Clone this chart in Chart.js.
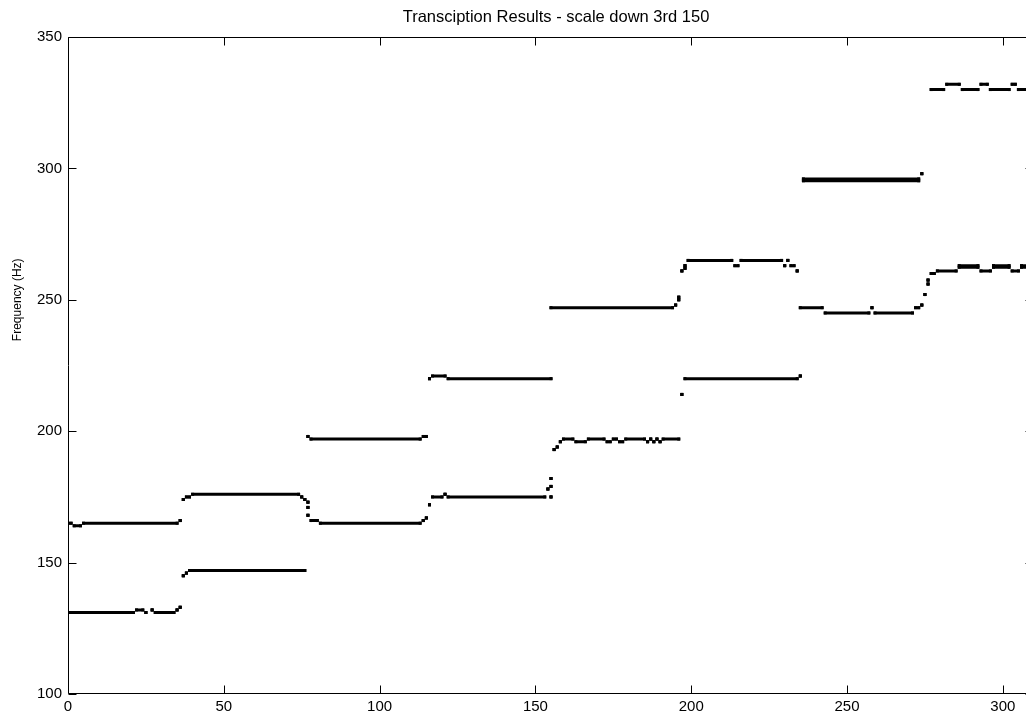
<!DOCTYPE html>
<html><head><meta charset="utf-8">
<script src="https://cdn.jsdelivr.net/npm/chart.js@4"></script>
<style>html,body{margin:0;padding:0;overflow:hidden;background:#fff}#wrap{width:1112px;height:717px;position:relative}</style>
</head><body><div id="wrap"><canvas id="c" width="1112" height="717"></canvas></div>
<script>
const chartTitle = 'Transciption Results - scale down 3rd 150';
const yAxisLabel = 'Frequency (Hz)';
const xTicks = [0, 50, 100, 150, 200, 250, 300];
const yTicks = [100, 150, 200, 250, 300, 350];
const xRange = [0, 310];
const yRange = [100, 350];

// Each run: [first frame, last frame, frequency (Hz)]
const bassRuns = [
  [0,21,131],[22,24,132],[25,25,131],[27,27,132],[28,34,131],[35,35,132],[36,36,133],
  [37,37,145],[38,38,146],[39,76,147]
];
const tenorRuns = [
  [0,1,165],[2,4,164],[5,35,165],[36,36,166],[37,37,174],[38,39,175],[40,74,176],
  [75,75,175],[76,76,174],[77,77,173],[77,77,171],[77,77,168],[78,80,166],[81,113,165],
  [114,114,166],[115,115,167],[116,116,172],[117,120,175],[121,121,176],[122,153,175],
  [154,154,178],[155,155,179],[155,155,182],[155,155,175]
];
const tenor2Runs = [
  [156,156,193],[157,157,194],[158,158,196],[159,162,197],[163,166,196],[167,172,197],
  [173,174,196],[175,176,197],[177,178,196],[179,185,197],[186,186,196],[187,187,197],
  [188,188,196],[189,189,197],[190,190,196],[191,196,197],
  [197,197,214],[198,234,220],[235,235,221]
];
const altoRuns = [
  [77,77,198],[78,113,197],[114,115,198],[116,116,220],[117,121,221],[122,155,220]
];
const sopranoRuns = [
  [155,194,247],[195,195,248],[196,196,250],[196,196,251],[197,197,261],[198,198,262],[198,198,263],
  [199,213,265],[214,215,263],[216,229,265],[230,230,263],[231,231,265],[232,233,263],[234,234,261]
];
const lateLowRuns = [
  [235,242,247],[243,257,245],[258,258,247],[259,271,245],[272,273,247],[274,274,248],
  [275,275,252],[276,276,256],[276,276,257.5],[277,278,260],[279,285,261],
  [286,292,263],[286,292,262.4],[293,296,261],[297,302,263],[297,302,262.4],
  [303,305,261],[306,310,263],[306,310,262.4]
];
const lateMidRuns = [
  [236,273,296],[236,273,295.3],[274,274,298]
];
const lateHighRuns = [
  [277,281,330],[282,286,332],[287,292,330],[293,295,332],[296,302,330],[303,304,332],[305,310,330]
];

function toPoints(runs) {
  const pts = [];
  runs.forEach(r => {
    pts.push({x: r[0], y: r[2]});
    pts.push({x: r[1], y: r[2]});
    pts.push({x: r[1], y: null});
  });
  return pts;
}
const allRuns = [bassRuns, tenorRuns, tenor2Runs, altoRuns, sopranoRuns, lateLowRuns, lateMidRuns, lateHighRuns];
const datasets = allRuns.map(runs => ({
  data: toPoints(runs),
  borderColor: '#000',
  backgroundColor: '#000',
  borderWidth: 3,
  borderCapStyle: 'square',
  pointStyle: 'rect',
  pointRadius: 2.12,
  pointBorderWidth: 0,
  pointBackgroundColor: '#000',
  pointHoverRadius: 0,
  tension: 0,
  spanGaps: false
}));

const FONT = "'Liberation Sans', Arial, sans-serif";

const boxPlugin = {
  id: 'box',
  afterDraw(chart) {
    const {ctx, chartArea: a, scales: {x, y}} = chart;
    ctx.save();
    ctx.strokeStyle = '#000';
    ctx.lineWidth = 1;
    ctx.beginPath();
    const L = Math.round(a.left) + 0.5, R = Math.round(a.right) - 0.5;
    const T = Math.round(a.top) + 0.5, B = Math.round(a.bottom) - 0.5;
    ctx.rect(L, T, R - L, B - T);
    x.ticks.forEach(t => {
      const px = Math.round(x.getPixelForValue(t.value)) + 0.5;
      ctx.moveTo(px, B); ctx.lineTo(px, B - 8);
      ctx.moveTo(px, T); ctx.lineTo(px, T + 8);
    });
    y.ticks.forEach(t => {
      const py = Math.round(y.getPixelForValue(t.value)) + 0.5;
      ctx.moveTo(L, py); ctx.lineTo(L + 8, py);
      ctx.moveTo(R, py); ctx.lineTo(R - 8, py);
    });
    ctx.stroke();
    // y axis label
    ctx.translate(18, y.getPixelForValue(250));
    ctx.rotate(-Math.PI / 2);
    ctx.fillStyle = '#000';
    ctx.font = '12px ' + FONT;
    ctx.textAlign = 'center';
    ctx.textBaseline = 'middle';
    ctx.fillText(yAxisLabel, 0, 0);
    ctx.restore();
  }
};

new Chart(document.getElementById('c'), {
  type: 'line',
  data: {datasets},
  options: {
    responsive: false,
    animation: false,
    devicePixelRatio: 1,
    events: [],
    layout: {padding: 0},
    plugins: {
      legend: {display: false},
      tooltip: {enabled: false},
      title: {
        display: true,
        text: chartTitle,
        color: '#000',
        font: {family: FONT, size: 16.5, weight: 'normal', lineHeight: 1.2},
        padding: {top: 8, bottom: 9.2}
      }
    },
    scales: {
      x: {
        type: 'linear',
        position: 'bottom',
        min: xRange[0], max: xRange[1],
        afterBuildTicks: s => { s.ticks = xTicks.map(v => ({value: v})); },
        afterFit: s => { s.height = 23; },
        grid: {display: false, drawTicks: false},
        border: {display: false},
        ticks: {color: '#000', padding: 4, font: {family: FONT, size: 15, lineHeight: 1.2}, maxRotation: 0, autoSkip: false}
      },
      y: {
        type: 'linear',
        position: 'left',
        min: yRange[0], max: yRange[1],
        afterBuildTicks: s => { s.ticks = yTicks.map(v => ({value: v})); },
        afterFit: s => { s.width = 68; },
        grid: {display: false, drawTicks: false},
        border: {display: false},
        ticks: {color: '#000', padding: 6, font: {family: FONT, size: 15}}
      },
      y2: {
        type: 'linear',
        position: 'right',
        min: yRange[0], max: yRange[1],
        afterFit: s => { s.width = 78; },
        grid: {display: false, drawTicks: false},
        border: {display: false},
        ticks: {display: false}
      }
    }
  },
  plugins: [boxPlugin]
});
</script></body></html>
